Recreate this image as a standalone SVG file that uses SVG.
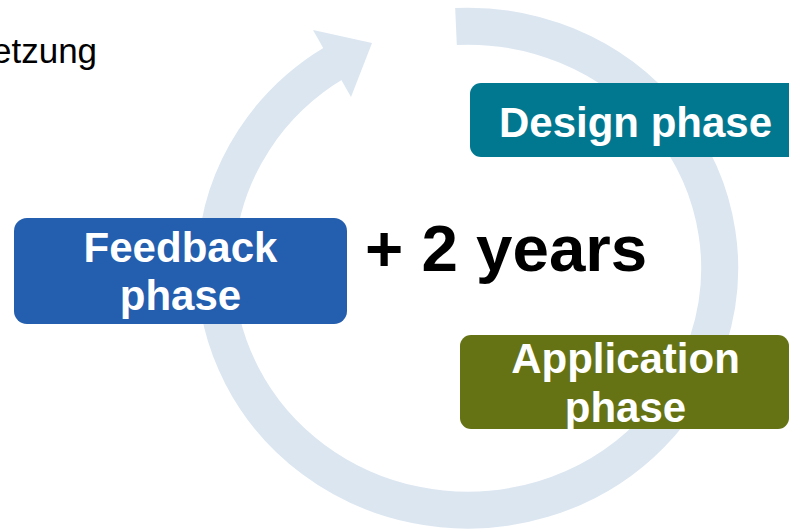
<svg xmlns="http://www.w3.org/2000/svg" width="789" height="529" viewBox="0 0 789 529">
  <style>
    .lbl { font-family: "Liberation Sans", Arial, sans-serif; font-weight: bold; fill: #ffffff; font-size: 42px; text-anchor: middle; }
    .cycle { fill: none; stroke: #dbe6f1; stroke-width: 37; stroke-linecap: butt; }
  </style>
  <rect width="789" height="529" fill="#ffffff"/>
  <g id="cycle-arrow">
    <path class="cycle" d="M 456 26.4 A 252 242 0 1 1 334 63"/>
    <polygon points="313,30 372,43 351,97" fill="#dbe6f1"/>
  </g>
  <text x="-8" y="63" font-family="Liberation Sans, Arial, sans-serif" font-size="35" fill="#000000">etzung</text>
  <g id="design">
    <rect x="470" y="83" width="340" height="74" rx="11" fill="#027890"/>
    <text class="lbl" x="635.5" y="137">Design phase</text>
  </g>
  <g id="feedback">
    <rect x="14" y="218" width="333" height="106" rx="13" fill="#245eae"/>
    <text class="lbl" x="180.5" y="262">Feedback</text>
    <text class="lbl" x="180.5" y="310">phase</text>
  </g>
  <g id="application">
    <rect x="460" y="335" width="329" height="94" rx="11" fill="#657315"/>
    <text class="lbl" x="625.5" y="373">Application</text>
    <text class="lbl" x="625.5" y="422">phase</text>
  </g>
  <text x="365" y="271" font-family="Liberation Sans, Arial, sans-serif" font-weight="bold" font-size="65.5" fill="#000000">+ 2 years</text>
</svg>
